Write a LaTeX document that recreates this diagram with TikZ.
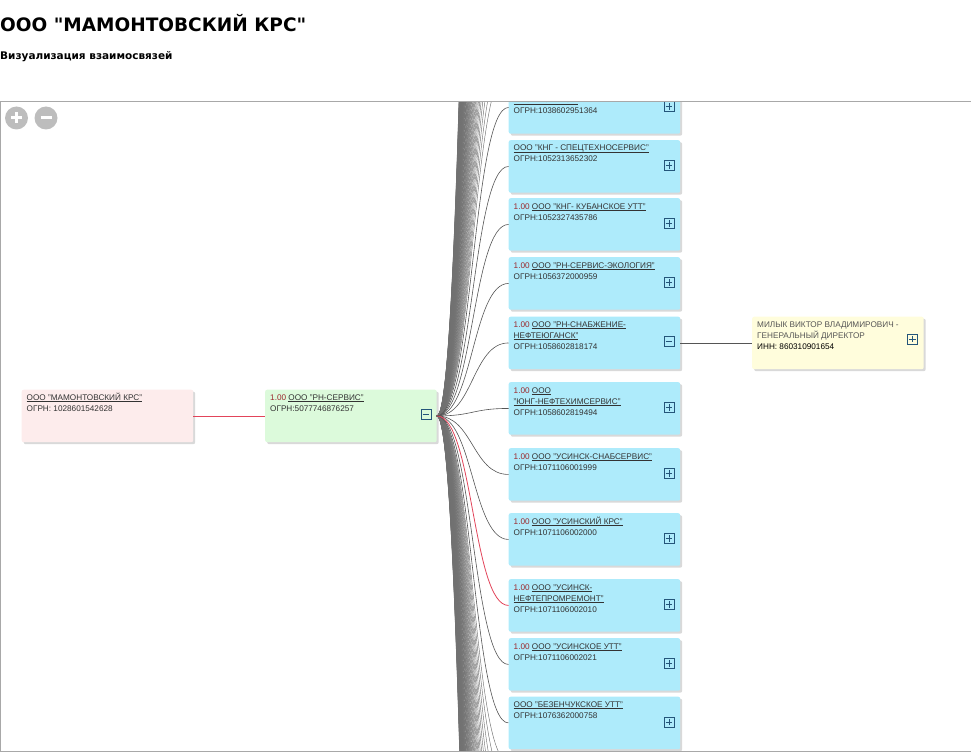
\documentclass[tikz,border=0pt]{standalone}
\usepackage{fontspec}
\setmainfont{Liberation Sans}
\newfontfamily\headfamily{DejaVu Sans}
\usetikzlibrary{positioning, shadows, calc}

\definecolor{boxblue}{HTML}{AEEBFB}
\definecolor{boxpink}{HTML}{FDECEC}
\definecolor{boxgreen}{HTML}{DCFADB}
\definecolor{boxyellow}{HTML}{FFFDDC}
\definecolor{iconblue}{HTML}{24557A}
\definecolor{txtgray}{HTML}{333333}
\definecolor{ratered}{HTML}{9B2A2E}
\definecolor{linkgray}{HTML}{555555}
\definecolor{fangray}{HTML}{707070}
\definecolor{linkred}{HTML}{E2445A}
\definecolor{framegray}{HTML}{A8A8A8}
\definecolor{btngray}{HTML}{BDBDBD}

\newcommand\orgfont{\fontsize{8.2}{10}\selectfont}
\newcommand\titlefont{\headfamily\bfseries\fontsize{18.5}{22}\selectfont}
\newcommand\subfont{\headfamily\bfseries\fontsize{10.5}{13}\selectfont}
\newcommand\orglink[1]{\setbox0\hbox{#1}\rlap{\rule[-1.4pt]{\wd0}{0.55pt}}\box0}
\newcommand\rateval{{\color{ratered}1.00}\ }

\tikzset{
  expandicon/.pic={\draw[iconblue, line width=0.8pt] (-5,-5) rectangle (5,5) (-3.3,0) -- (3.3,0) (0,-3.3) -- (0,3.3);},
  collapseicon/.pic={\draw[iconblue, line width=0.8pt] (-5,-5) rectangle (5,5) (-3.3,0) -- (3.3,0);}
}

\begin{document}
\begin{tikzpicture}[x=1pt, y=-1pt,
    orgbox/.style={rectangle, rounded corners=2pt, minimum width=171.5pt, minimum height=52.5pt,
                   inner sep=0pt, anchor=north west,
                   drop shadow={shadow xshift=2pt, shadow yshift=-2pt, fill=black, opacity=0.15}},
    bluebox/.style={orgbox, fill=boxblue},
    txt/.style={anchor=base west, inner sep=0pt, font=\orgfont, text=txtgray},
    link/.style={linkgray, line width=0.6pt},
    farlink/.style={fangray, line width=0.45pt},
    redlink/.style={linkred, line width=0.8pt},
    zoombtn/.style={circle, fill=btngray, minimum size=23pt, inner sep=0pt}]
  \useasboundingbox (0,0) rectangle (971,754);
  % page heading
  \node[anchor=base west, inner sep=0pt, font=\titlefont] (title) at (0,32) {ООО "МАМОНТОВСКИЙ КРС"};
  \node[anchor=base west, inner sep=0pt, font=\subfont] (subtitle) at (0,59.5) {Визуализация взаимосвязей};

  \begin{scope}
    \clip (0.5,101.5) rectangle (975,751.5);
    % zoom buttons
    \node[zoombtn] (zin) at (16.5,118) {};
    \node[zoombtn] (zout) at (46,118) {};
    \draw[white, line width=3pt] (zin.center) ++(-5.5,0) -- ++(11,0) (zin.center) ++(0,-5.5) -- ++(0,11);
    \draw[white, line width=3pt] (zout.center) ++(-5.5,0) -- ++(11,0);

    % root company and its parent link
    \node[orgbox, fill=boxpink] (mkrs) at (21.5,389.5) {};
    \node[txt] (mkrs-name) at (26.5,400.5) {\orglink{ООО "МАМОНТОВСКИЙ КРС"}};
    \node[txt] (mkrs-ogrn) at (26.5,411.5) {ОГРН: 1028601542628};
    \node[orgbox, fill=boxgreen] (rn) at (265,389.5) {};
    \node[txt] (rn-name) at (270,400.5) {\rateval\orglink{ООО "РН-СЕРВИС"}};
    \node[txt] (rn-ogrn) at (270,411.5) {ОГРН:5077746876257};
    \pic at ($(rn.east)+(-11,-1.5)$) {collapseicon};

    % children of РН-СЕРВИС
    \node[bluebox] (nfu) at (508.5,81) {};
    \node[txt] (nfu-name) at (513.5,103) {\orglink{НЕФТЕЮГАНСК"}};
    \node[txt] (nfu-ogrn) at (513.5,114) {ОГРН:1038602951364};
    \pic at ($(nfu.east)+(-11.5,-1)$) {expandicon};

    \node[bluebox] (kngst) at (508.5,140) {};
    \node[txt] (kngst-name) at (513.5,151) {\orglink{ООО "КНГ - СПЕЦТЕХНОСЕРВИС"}};
    \node[txt] (kngst-ogrn) at (513.5,162) {ОГРН:1052313652302};
    \pic at ($(kngst.east)+(-11.5,-1)$) {expandicon};

    \node[bluebox] (kngkub) at (508.5,198) {};
    \node[txt] (kngkub-name) at (513.5,209) {\rateval\orglink{ООО "КНГ- КУБАНСКОЕ УТТ"}};
    \node[txt] (kngkub-ogrn) at (513.5,220) {ОГРН:1052327435786};
    \pic at ($(kngkub.east)+(-11.5,-1)$) {expandicon};

    \node[bluebox] (rnse) at (508.5,257) {};
    \node[txt] (rnse-name) at (513.5,268) {\rateval\orglink{ООО "РН-СЕРВИС-ЭКОЛОГИЯ"}};
    \node[txt] (rnse-ogrn) at (513.5,279) {ОГРН:1056372000959};
    \pic at ($(rnse.east)+(-11.5,-1)$) {expandicon};

    \node[bluebox] (rnsn) at (508.5,316.5) {};
    \node[txt] (rnsn-name) at (513.5,327.5) {\rateval\orglink{ООО "РН-СНАБЖЕНИЕ-}};
    \node[txt] (rnsn-name2) at (513.5,338.5) {\orglink{НЕФТЕЮГАНСК"}};
    \node[txt] (rnsn-ogrn) at (513.5,349.5) {ОГРН:1058602818174};
    \pic at ($(rnsn.east)+(-11.5,-2)$) {collapseicon};

    \node[bluebox] (yung) at (508.5,382) {};
    \node[txt] (yung-name) at (513.5,393) {\rateval\orglink{ООО}};
    \node[txt] (yung-name2) at (513.5,404) {\orglink{"ЮНГ-НЕФТЕХИМСЕРВИС"}};
    \node[txt] (yung-ogrn) at (513.5,415) {ОГРН:1058602819494};
    \pic at ($(yung.east)+(-11.5,-1)$) {expandicon};

    \node[bluebox] (ussnab) at (508.5,448) {};
    \node[txt] (ussnab-name) at (513.5,459) {\rateval\orglink{ООО "УСИНСК-СНАБСЕРВИС"}};
    \node[txt] (ussnab-ogrn) at (513.5,470) {ОГРН:1071106001999};
    \pic at ($(ussnab.east)+(-11.5,-1)$) {expandicon};

    \node[bluebox] (uskrs) at (508.5,513) {};
    \node[txt] (uskrs-name) at (513.5,524) {\rateval\orglink{ООО "УСИНСКИЙ КРС"}};
    \node[txt] (uskrs-ogrn) at (513.5,535) {ОГРН:1071106002000};
    \pic at ($(uskrs.east)+(-11.5,-1)$) {expandicon};

    \node[bluebox] (usnpr) at (508.5,579) {};
    \node[txt] (usnpr-name) at (513.5,590) {\rateval\orglink{ООО "УСИНСК-}};
    \node[txt] (usnpr-name2) at (513.5,601) {\orglink{НЕФТЕПРОМРЕМОНТ"}};
    \node[txt] (usnpr-ogrn) at (513.5,612) {ОГРН:1071106002010};
    \pic at ($(usnpr.east)+(-11.5,-1)$) {expandicon};

    \node[bluebox] (usutt) at (508.5,638) {};
    \node[txt] (usutt-name) at (513.5,649) {\rateval\orglink{ООО "УСИНСКОЕ УТТ"}};
    \node[txt] (usutt-ogrn) at (513.5,660) {ОГРН:1071106002021};
    \pic at ($(usutt.east)+(-11.5,-1)$) {expandicon};

    \node[bluebox] (bez) at (508.5,696.5) {};
    \node[txt] (bez-name) at (513.5,707.5) {\orglink{ООО "БЕЗЕНЧУКСКОЕ УТТ"}};
    \node[txt] (bez-ogrn) at (513.5,718.5) {ОГРН:1076362000758};
    \pic at ($(bez.east)+(-11.5,-1)$) {expandicon};

    % director
    \node[orgbox, fill=boxyellow] (milyk) at (752,316.5) {};
    \node[txt, text=linkgray] (milyk-name) at (757,327.5) {МИЛЫК ВИКТОР ВЛАДИМИРОВИЧ -};
    \node[txt, text=linkgray] (milyk-post) at (757,338.5) {ГЕНЕРАЛЬНЫЙ ДИРЕКТОР};
    \node[txt, text=black] (milyk-inn) at (757,349.5) {ИНН: 860310901654};
    \pic at ($(milyk.east)+(-11.5,-4)$) {expandicon};

    % links to children outside the view
    \foreach \k in {1,...,70} {
      \coordinate (up\k) at (508.5,90-22*\k);
      \coordinate (dn\k) at (508.5,740+22*\k);
      \draw[farlink] (rn.east) .. controls +(36,0) and +(-36,0) .. (up\k);
      \draw[farlink] (rn.east) .. controls +(36,0) and +(-36,0) .. (dn\k);
    }
    % links to visible children
    \foreach \c in {nfu, kngst, kngkub, rnse, rnsn, yung, ussnab, uskrs, usutt, bez}
      \draw[link] (rn.east) .. controls +(36,0) and +(-36,0) .. (\c.west);
    \draw[link] (rnsn.east) -- (milyk.west);
    % highlighted chain
    \draw[redlink] (mkrs.east) -- (rn.west);
    \draw[redlink] (rn.east) .. controls +(36,0) and +(-36,0) .. (usnpr.west);
  \end{scope}
  \draw[framegray] (0.5,101.5) rectangle (975,751.5);
\end{tikzpicture}
\end{document}
